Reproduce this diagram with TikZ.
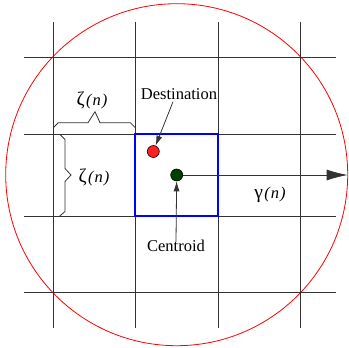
\documentclass[tikz,border=0pt]{standalone}
\usepackage{fontspec}
\setmainfont{Liberation Serif}
\usetikzlibrary{arrows.meta}
\definecolor{gridc}{HTML}{333333}
\definecolor{dotgreen}{HTML}{004000}
\definecolor{dotred}{HTML}{FF2020}
\newcommand\greeklbl[1]{{\fontsize{19.5}{20}\selectfont #1}\kern1.5pt\textit{(\kern1pt n\kern1pt)}}
\begin{document}
\begin{tikzpicture}[x=1pt,y=-1pt,
  gridline/.style={draw=gridc,line width=0.8pt},
  bracec/.style={draw=gridc,line width=0.8pt},
  lbl/.style={font=\fontspec{Liberation Serif}\fontsize{16.5}{19}\selectfont,inner sep=1pt},
  dot/.style={circle,draw=black,line width=0.6pt,minimum size=12pt,inner sep=0pt},
  ptr/.style={draw=gridc,line width=0.8pt,-{Latex[length=10pt,width=6pt]}},
]
\useasboundingbox (0,0) rectangle (349,348);
% red circle
\draw[red,line width=0.8pt] (176.7,174.7) circle (171);
% grid
\foreach \x in {53.3,135.3,218.3,300.7} \draw[gridline] (\x,22) -- (\x,328);
\foreach \y in {57.3,134,216.3,292.7} \draw[gridline] (24,\y) -- (335.7,\y);
% blue cell
\draw[blue,line width=2pt] (135.3,134) rectangle (218.3,216.3);
% braces
\draw[bracec] (53.3,127.7) -- (58.3,122.7) -- (88,122.7) -- (95,111.7) -- (100,122.7) -- (130.3,122.7) -- (135.3,127.7);
\draw[bracec] (60,134.5) -- (65,139.5) -- (65,168.5) -- (71,175) -- (65,181.5) -- (65,211.5) -- (59.5,216.3);
% labels
\node[lbl] (zt) at (92,100) {\greeklbl{ζ}};
\node[lbl] (zl) at (94,177) {\greeklbl{ζ}};
\node[lbl] (dest) at (179,94) {Destination};
\node[lbl] (cent) at (176,246) {Centroid};
\node[lbl] (gam) at (270,195) {\greeklbl{γ}};
% dots
\node[dot,fill=dotred] (red) at (153.3,151.5) {};
\node[dot,fill=dotgreen] (grn) at (176.7,175) {};
\coordinate (rim) at (347.7,175);
% connectors
\draw[draw=gridc,line width=0.8pt,-{Latex[length=21pt,width=11pt]}] (grn.east) -- (rim);
\draw[ptr] ([xshift=-6pt,yshift=-1pt]dest.south) -- (red);
\draw[ptr] ([yshift=-3pt]cent.north) -- (grn);
\end{tikzpicture}
\end{document}
